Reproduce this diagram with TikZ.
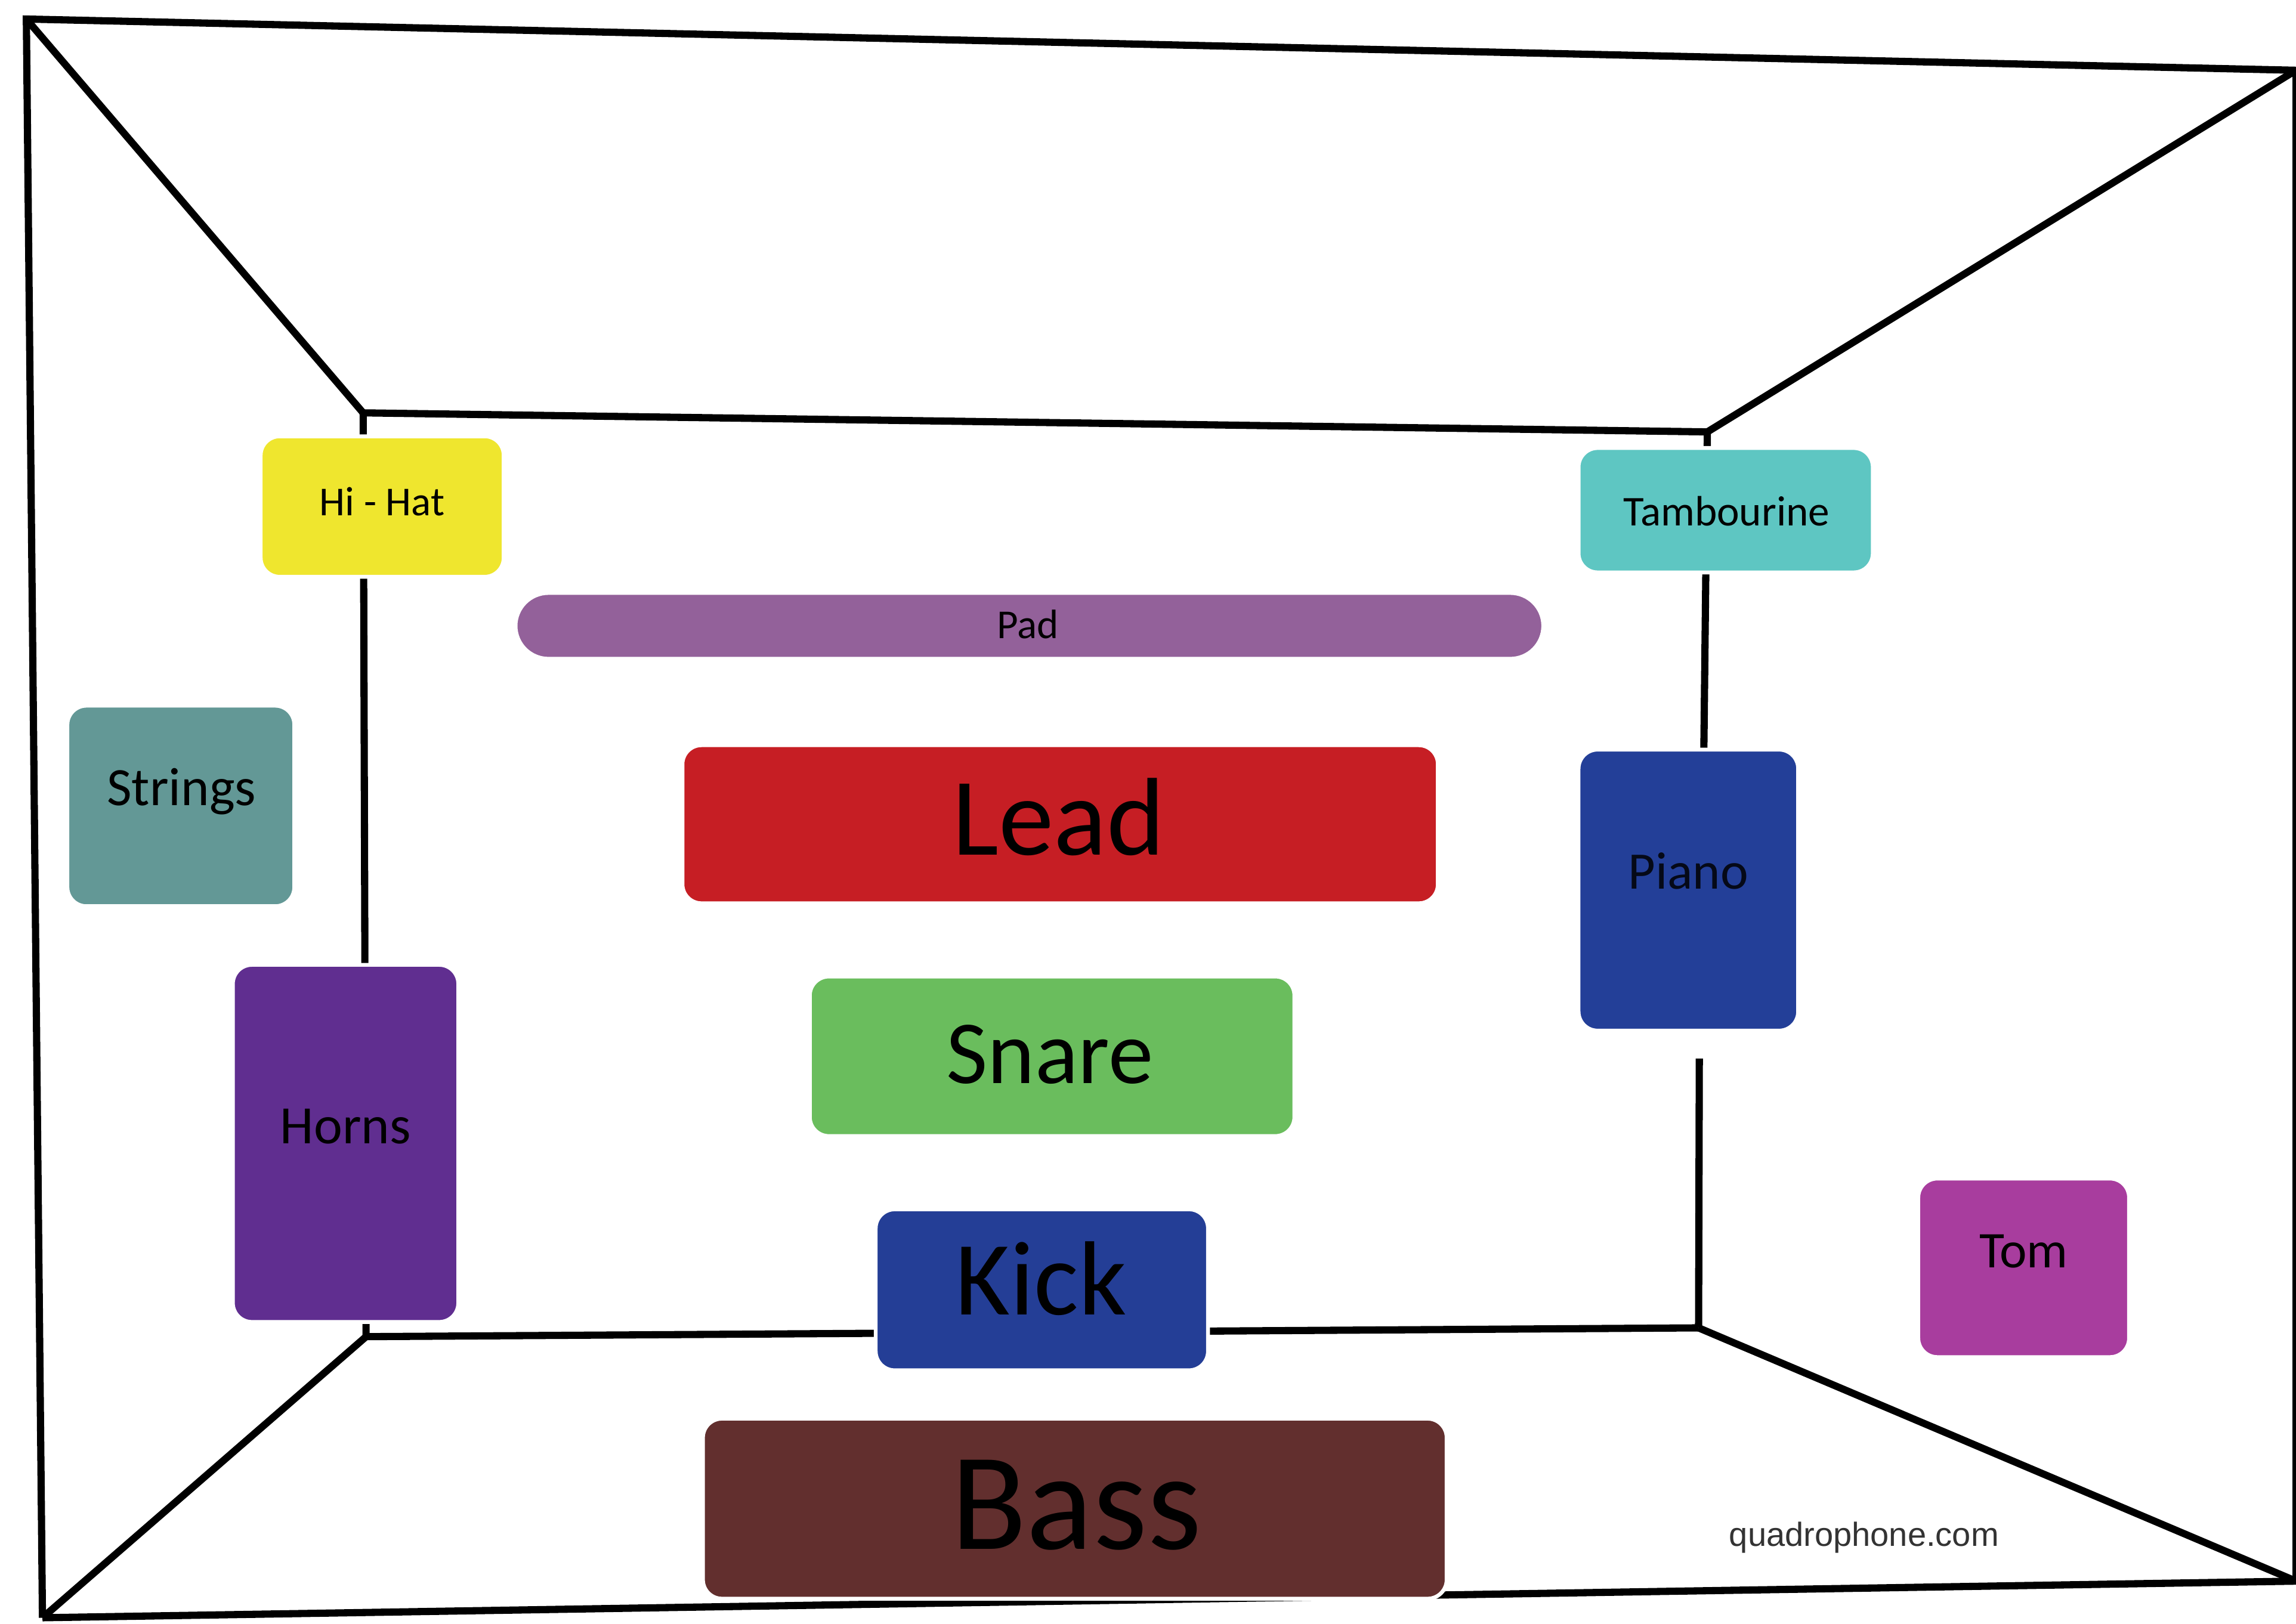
\documentclass[tikz,border=0pt]{standalone}
\usepackage{fontspec}
\setmainfont{Carlito}
\newfontfamily\wmfont{Liberation Sans}

\definecolor{hihatcol}{HTML}{EFE62E}
\definecolor{tambcol}{HTML}{5EC6C2}
\definecolor{padcol}{HTML}{93619A}
\definecolor{stringscol}{HTML}{639896}
\definecolor{leadcol}{HTML}{C61E24}
\definecolor{pianocol}{HTML}{233F98}
\definecolor{hornscol}{HTML}{602E90}
\definecolor{snarecol}{HTML}{6ABD5D}
\definecolor{kickcol}{HTML}{243E96}
\definecolor{tomcol}{HTML}{A83D9E}
\definecolor{basscol}{HTML}{622F2E}
\definecolor{wmcol}{HTML}{333333}

\tikzset{
  frameline/.style={line width=2.8pt, draw=black, line join=miter},
  inst/.style={rectangle, rounded corners=0.26cm, draw=white, line width=1.5pt, inner sep=0pt},
  lbl/.style={anchor=base, inner sep=0pt, text=black},
}
\newcommand{\fsz}[1]{\fontsize{#1}{#1}\selectfont}

\begin{document}
\begin{tikzpicture}[x=0.02cm, y=-0.02cm]
  \useasboundingbox (0,0) rectangle (1568,1109);
  \fill[white] (0,0) rectangle (1568,1109);

  % corners of the room: outer frame and back wall
  \coordinate (o1) at (18,13);
  \coordinate (o2) at (1568,48);
  \coordinate (o3) at (1568,1080);
  \coordinate (o4) at (29,1105);
  \coordinate (i1) at (248,282);
  \coordinate (i2) at (1166,295);
  \coordinate (i3) at (1160,907);
  \coordinate (i4) at (250,913);
  \coordinate (r1) at (1163.5,520);
  \coordinate (r2) at (1160.5,723);

  % outer frame
  \draw[frameline] (o4) -- (o1) -- (o2);
  \draw[frameline] (o2) -- (o3) -- (o4);
  % edges of the room
  \draw[frameline] (o1) -- (i1);
  \draw[frameline] (o2) -- (i2);
  \draw[frameline] (o3) -- (i3);
  \draw[frameline] (o4) -- (i4);
  % back wall
  \draw[frameline] (i1) -- (i2);
  \draw[frameline] (i2) -- (r1);
  \draw[frameline] (r2) -- (i3);
  \draw[frameline] (i3) -- (i4) -- (i1);

  % instruments
  \node[inst, fill=hihatcol, minimum width=3.32cm, minimum height=1.92cm] (hihat) at (261,346) {};
  \node[inst, fill=tambcol, minimum width=4.02cm, minimum height=1.70cm] (tamb) at (1178.5,348.5) {};
  \node[inst, fill=padcol, rounded corners=0.45cm, minimum width=14.04cm, minimum height=0.90cm] (pad) at (703,427.5) {};
  \node[inst, fill=stringscol, minimum width=3.10cm, minimum height=2.74cm] (strings) at (123.5,550.5) {};
  \node[inst, fill=leadcol, minimum width=10.32cm, minimum height=2.16cm] (lead) at (724,563) {};
  \node[inst, fill=pianocol, minimum width=3.00cm, minimum height=3.84cm] (piano) at (1153,608) {};
  \node[inst, fill=hornscol, minimum width=3.08cm, minimum height=4.88cm] (horns) at (236,781) {};
  \node[inst, fill=snarecol, minimum width=6.62cm, minimum height=2.18cm] (snare) at (718.5,721.5) {};
  \node[inst, fill=kickcol, minimum width=4.54cm, minimum height=2.20cm] (kick) at (711.5,881) {};
  \node[inst, fill=tomcol, minimum width=2.88cm, minimum height=2.44cm] (tom) at (1382,866) {};
  \node[inst, fill=basscol, minimum width=10.16cm, minimum height=2.46cm] (bass) at (734,1030.5) {};

  % labels
  \node[lbl, font=\fsz{16}] (hihat-t) at (261,352) {Hi - Hat};
  \node[lbl, font=\fsz{16.5}] (tamb-t) at (1179,359) {Tambourine};
  \node[lbl, font=\fsz{16}] (pad-t) at (702,436) {Pad};
  \node[lbl, font=\fsz{21}] (strings-t) at (124,550) {Strings};
  \node[lbl, font=\fsz{43}] (lead-t) at (723,584) {Lead};
  \node[lbl, text=black!85!pianocol, font=\fsz{20.5}] (piano-t) at (1153,607) {Piano};
  \node[lbl, font=\fsz{21}] (horns-t) at (236,781) {Horns};
  \node[lbl, font=\fsz{35}] (snare-t) at (717,740) {Snare};
  \node[lbl, font=\fsz{41}] (kick-t) at (711,898) {Kick};
  \node[lbl, font=\fsz{20}] (tom-t) at (1382,866) {Tom};
  \node[lbl, font=\fsz{54}] (bass-t) at (735,1058) {Bass};
  \node[lbl, text=wmcol, font=\wmfont\fsz{13}] (site) at (1273,1056) {quadrophone.com};
\end{tikzpicture}
\end{document}
